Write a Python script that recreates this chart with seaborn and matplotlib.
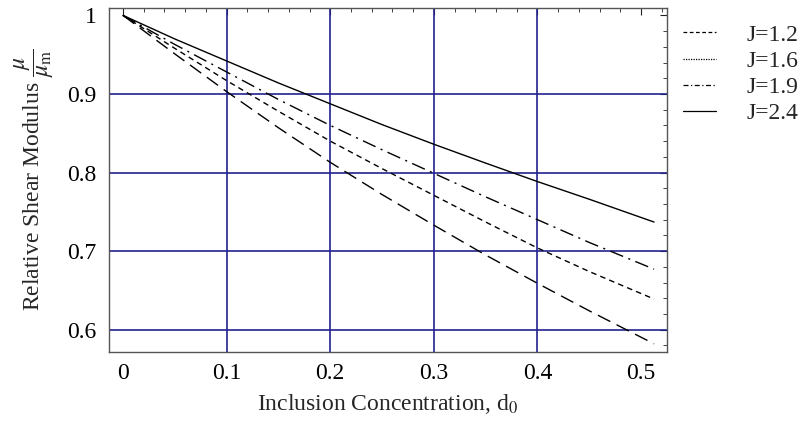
import matplotlib
matplotlib.use("Agg")
import matplotlib.pyplot as plt
import seaborn as sns
import pandas as pd
from matplotlib.lines import Line2D

# ---- data ----
d0 = [0.0, 0.05, 0.10, 0.15, 0.20, 0.25, 0.30, 0.35, 0.40, 0.45, 0.5125]
mu_J12 = [1.0, 0.951, 0.903, 0.857, 0.813, 0.772, 0.733, 0.695, 0.659, 0.624, 0.582]
mu_J16 = [1.0, 0.958, 0.917, 0.878, 0.840, 0.805, 0.771, 0.737, 0.704, 0.674, 0.639]
mu_J19 = [1.0, 0.963, 0.928, 0.893, 0.860, 0.829, 0.799, 0.769, 0.740, 0.711, 0.677]
mu_J24 = [1.0, 0.970, 0.942, 0.914, 0.8875, 0.861, 0.836, 0.812, 0.7885, 0.766, 0.737]
series_labels = ["J=1.2", "J=1.6", "J=1.9", "J=2.4"]
x_ticks = [0, 0.1, 0.2, 0.3, 0.4, 0.5]
x_ticklabels = ["0", "0.1", "0.2", "0.3", "0.4", "0.5"]
y_ticks = [0.6, 0.7, 0.8, 0.9, 1.0]
y_ticklabels = ["0.6", "0.7", "0.8", "0.9", "1"]
x_grid = [0.1, 0.2, 0.3, 0.4]
y_grid = [0.6, 0.7, 0.8, 0.9]

df = pd.DataFrame({
    "d0": d0 * 4,
    "mu": mu_J12 + mu_J16 + mu_J19 + mu_J24,
    "J": sum([[lab] * len(d0) for lab in series_labels], []),
})

sns.set_theme(style="white")
plt.rcParams["font.family"] = ["Liberation Serif", "DejaVu Serif"]
plt.rcParams["mathtext.fontset"] = "stix"

fig = plt.figure(figsize=(8.09, 4.22), dpi=100)
ax = fig.add_axes([109 / 809, 1 - 352 / 422, (667 - 109) / 809, (352 - 8) / 422])

grid_color = "#22228f"
for gx in x_grid:
    ax.axvline(gx, color=grid_color, lw=1.2, zorder=1)
for gy in y_grid:
    ax.axhline(gy, color=grid_color, lw=1.2, zorder=1)

dash_map = {
    "J=1.2": (10, 5),
    "J=1.6": (4, 3),
    "J=1.9": (10, 4, 1.5, 4),
    "J=2.4": "",
}
sns.lineplot(data=df, x="d0", y="mu", hue="J", style="J",
             palette=["black"] * 4, dashes=dash_map, lw=1.0,
             ax=ax, legend=False, zorder=3)

ax.set_xlim(-0.0135, 0.525)
ax.set_ylim(0.5716, 1.0094)
ax.set_xticks(x_ticks)
ax.set_xticklabels(x_ticklabels)
ax.set_yticks(y_ticks)
ax.set_yticklabels(y_ticklabels)
ax.set_xticks([i * 0.02 for i in range(0, 27)], minor=True)
ax.set_yticks([0.58 + i * 0.02 for i in range(0, 22)], minor=True)

spine_color = "#555555"
for s in ax.spines.values():
    s.set_color(spine_color)
    s.set_linewidth(1.0)
ax.tick_params(which="both", direction="in", top=True, right=True,
               color="#222222", labelsize=17, labelcolor="black")
ax.tick_params(which="major", length=5, width=0.8)
ax.tick_params(which="minor", length=3, width=0.6)
ax.tick_params(axis="x", pad=8)
ax.tick_params(axis="y", pad=9)

ax.set_xlabel(r"Inclusion Concentration, d$_0$", fontsize=17, labelpad=6)
ax.set_ylabel(r"Relative Shear Modulus $\dfrac{\mu}{\mu_{\rm m}}$", fontsize=17, labelpad=8)

handles = [
    Line2D([], [], color="black", lw=0.9, dashes=(3, 2)),
    Line2D([], [], color="black", lw=0.9, dashes=(1, 1)),
    Line2D([], [], color="black", lw=0.9, dashes=(4, 2, 1, 2)),
    Line2D([], [], color="black", lw=0.9),
]
fig.legend(handles, series_labels, loc="upper left",
           bbox_to_anchor=(683 / 809, 1 - 24 / 422), frameon=False,
           fontsize=17, handlelength=1.4, handletextpad=1.3,
           labelspacing=0.2, borderpad=0, borderaxespad=0)

fig.savefig("out.png", dpi=100)
